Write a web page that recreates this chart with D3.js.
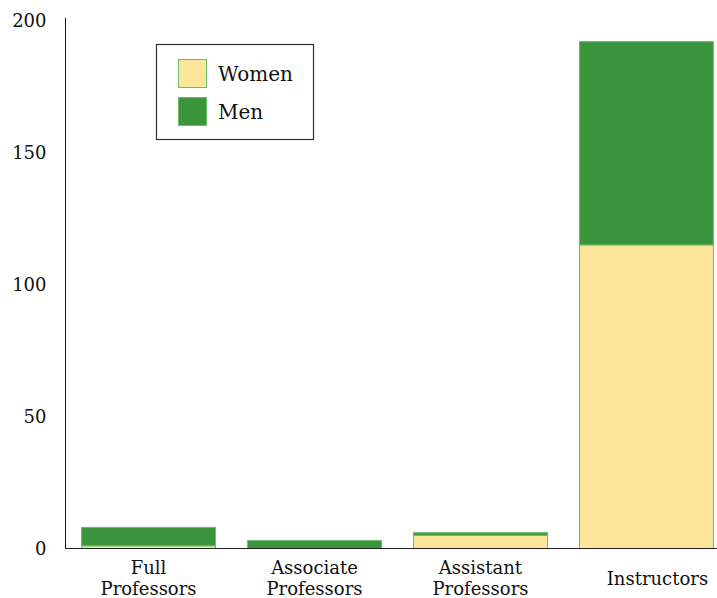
<!DOCTYPE html>
<html>
<head>
<meta charset="utf-8">
<script src="https://cdn.jsdelivr.net/npm/d3@7"></script>
<style>
  body { margin: 0; background: #fff; }
  text { font-family: "DejaVu Serif", serif; fill: #111; }
</style>
</head>
<body>
<div id="chart"></div>
<script>
// Chart data
const categories = ['Full Professors', 'Associate Professors', 'Assistant Professors', 'Instructors'];
const categoryLines = [['Full', 'Professors'], ['Associate', 'Professors'], ['Assistant', 'Professors'], ['Instructors']];
const women = [1, 0, 5, 115];
const men = [7, 3, 1, 77];
const yTicks = [0, 50, 100, 150, 200];
const seriesNames = ['Women', 'Men'];

const colors = { Women: '#fde699', Men: '#3a953d' };
const edge = '#6cbd6a';

const width = 717, height = 598;

const svg = d3.select('#chart').append('svg')
    .attr('width', width)
    .attr('height', height);

// Scales
const xScale = d3.scaleBand()
    .domain(categories)
    .range([65, 730])
    .paddingInner(0.193)
    .paddingOuter(0.1);

const yScale = d3.scaleLinear()
    .domain([0, 200])
    .range([548.5, 20.5]);

// Stack the two series
const rows = categories.map((c, i) => ({ category: c, Women: women[i], Men: men[i] }));
const stacked = d3.stack().keys(seriesNames)(rows);

svg.append('g')
    .selectAll('g')
    .data(stacked)
    .enter()
    .append('g')
    .attr('fill', d => colors[d.key])
    .selectAll('rect')
    .data(d => d)
    .enter()
    .append('rect')
    .attr('x', d => xScale(d.data.category))
    .attr('y', d => yScale(d[1]))
    .attr('width', xScale.bandwidth())
    .attr('height', d => yScale(d[0]) - yScale(d[1]))
    .attr('stroke', edge)
    .attr('stroke-width', 1);

// Y axis (no tick marks)
const yAxis = svg.append('g')
    .attr('transform', 'translate(65.5,0)')
    .call(d3.axisLeft(yScale).tickValues(yTicks).tickSize(0).tickPadding(19));
yAxis.select('.domain').attr('stroke', '#111').attr('d', `M0,18V${yScale(0)}`);
yAxis.selectAll('text').style('font-family', '"DejaVu Serif", serif').style('font-size', '18px').attr('fill', '#111');

// X axis baseline
svg.append('line')
    .attr('x1', 65).attr('x2', width)
    .attr('y1', yScale(0)).attr('y2', yScale(0))
    .attr('stroke', '#222')
    .attr('stroke-width', 1);

// Category labels (single-line label sits a little right of centre)
const labels = svg.append('g')
    .selectAll('text')
    .data(categories)
    .enter()
    .append('text')
    .attr('y', (d, i) => categoryLines[i].length > 1 ? 574 : 585)
    .attr('text-anchor', 'middle')
    .style('font-size', '18px');

labels.each(function (d, i) {
    const t = d3.select(this);
    const shift = categoryLines[i].length > 1 ? 0 : 11;
    categoryLines[i].forEach((line, j) => {
        t.append('tspan')
            .attr('x', xScale(d) + xScale.bandwidth() / 2 + shift)
            .attr('dy', j === 0 ? 0 : 21)
            .text(line);
    });
});

// Legend
const legend = svg.append('g');
legend.append('rect')
    .attr('x', 156.5).attr('y', 44.5)
    .attr('width', 157).attr('height', 95)
    .attr('fill', '#fff')
    .attr('stroke', '#333')
    .attr('stroke-width', 1.2);

seriesNames.forEach((name, i) => {
    legend.append('rect')
        .attr('x', 178.5).attr('y', 59.5 + i * 38)
        .attr('width', 28).attr('height', 28)
        .attr('fill', colors[name])
        .attr('stroke', edge);
    legend.append('text')
        .attr('x', 218)
        .attr('y', 80.5 + i * 38)
        .style('font-size', '20px')
        .text(name);
});
</script>
</body>
</html>
